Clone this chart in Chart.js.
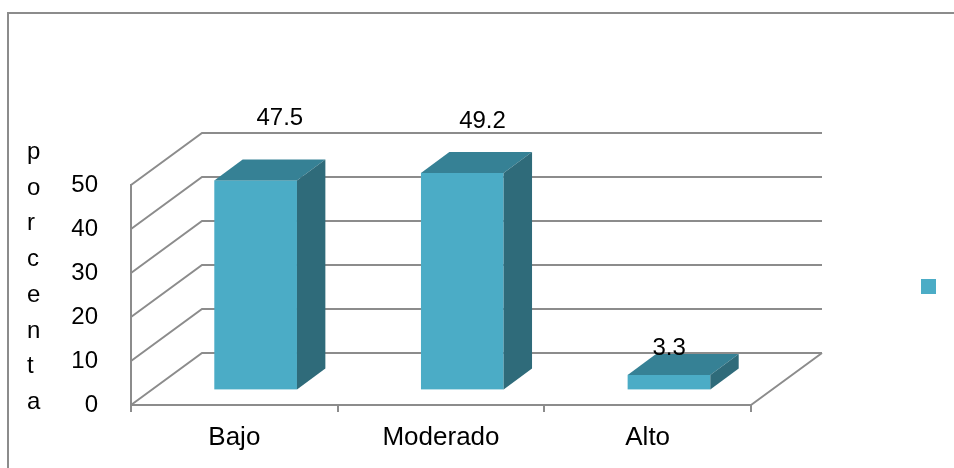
<!DOCTYPE html>
<html>
<head>
<meta charset="utf-8">
<script src="https://cdn.jsdelivr.net/npm/chart.js@4.4.1/dist/chart.umd.min.js"></script>
<style>
  html, body { margin: 0; padding: 0; background: #fff; }
</style>
</head>
<body>
<canvas id="chart" width="954" height="468"></canvas>
<script>
const categories = ["Bajo", "Moderado", "Alto"];
const porcentaje = [47.5, 49.2, 3.3];
const yTicks = [0, 10, 20, 30, 40, 50];
const axisTitle = "porcenta";

const font = "'Liberation Sans', Arial, sans-serif";
const gridColor = "#8c8c8c";
const faceFront = "#4bacc6";
const faceTop = "#368195";
const faceSide = "#2f6b7a";

// depth of the walls/floor, in px (right and up)
const depth = { dx: 71, dy: 52 };
// bars sit between 30% and 70% of the floor depth
const barDepth = { from: 0.3, to: 0.7 };

const threeD = {
  id: "threeD",
  beforeDatasetsDraw(chart) {
    const { ctx, chartArea: a } = chart;
    const y = chart.scales.y;
    ctx.save();
    ctx.strokeStyle = gridColor;
    ctx.lineWidth = 2;
    ctx.beginPath();
    // side wall diagonals + back wall gridlines
    yTicks.forEach(v => {
      const py = y.getPixelForValue(v);
      ctx.moveTo(a.left, py);
      ctx.lineTo(a.left + depth.dx, py - depth.dy);
      ctx.lineTo(a.right + depth.dx, py - depth.dy);
    });
    // right edge of the floor
    ctx.moveTo(a.right, a.bottom);
    ctx.lineTo(a.right + depth.dx, a.bottom - depth.dy);
    ctx.stroke();
    ctx.restore();
  },
  afterDatasetsDraw(chart, args, opts) {
    const { ctx } = chart;
    const meta = chart.getDatasetMeta(0);
    const ox = depth.dx * barDepth.from, oy = depth.dy * barDepth.from;
    const bx = depth.dx * (barDepth.to - barDepth.from);
    const by = depth.dy * (barDepth.to - barDepth.from);
    ctx.save();
    meta.data.forEach((bar, i) => {
      const { x, y, base, width } = bar.getProps(["x", "y", "base", "width"], true);
      const l = x - width / 2 + ox, r = x + width / 2 + ox;
      const t = y - oy, b = base - oy;
      ctx.fillStyle = faceFront;
      ctx.fillRect(l, t, r - l, b - t);
      ctx.fillStyle = faceTop;
      ctx.beginPath();
      ctx.moveTo(l, t); ctx.lineTo(l + bx, t - by); ctx.lineTo(r + bx, t - by); ctx.lineTo(r, t);
      ctx.closePath(); ctx.fill();
      ctx.fillStyle = faceSide;
      ctx.beginPath();
      ctx.moveTo(r, t); ctx.lineTo(r + bx, t - by); ctx.lineTo(r + bx, b - by); ctx.lineTo(r, b);
      ctx.closePath(); ctx.fill();

      // value label above the bar top
      const n = opts.labelNudge[i] || [0, 0];
      ctx.fillStyle = "#000";
      ctx.font = "24px " + font;
      ctx.textAlign = "center";
      ctx.textBaseline = "alphabetic";
      ctx.fillText(String(porcentaje[i]), (l + r) / 2 + bx / 2 + n[0], t - by - 20 + n[1]);
    });
    ctx.restore();
  },
  afterDraw(chart) {
    const { ctx, width, height } = chart;
    ctx.save();
    // outer frame: only the top and left edges fall inside the canvas
    ctx.strokeStyle = gridColor;
    ctx.lineWidth = 2;
    ctx.beginPath();
    ctx.moveTo(8, height);
    ctx.lineTo(8, 13);
    ctx.lineTo(width, 13);
    ctx.stroke();
    // stacked axis title
    ctx.fillStyle = "#000";
    ctx.font = "24px " + font;
    ctx.textAlign = "left";
    ctx.textBaseline = "alphabetic";
    axisTitle.split("").forEach((ch, i) => ctx.fillText(ch, 27, 159 + i * 35.7));
    // legend swatch (series has no name)
    ctx.fillStyle = faceFront;
    ctx.fillRect(921, 279, 15, 15);
    ctx.restore();
  }
};

new Chart(document.getElementById("chart"), {
  type: "bar",
  plugins: [threeD],
  data: {
    labels: categories,
    datasets: [{
      data: porcentaje,
      backgroundColor: "rgba(0,0,0,0)",
      barPercentage: 0.4,
      categoryPercentage: 1
    }]
  },
  options: {
    responsive: false,
    animation: false,
    layout: { padding: { left: 0, top: 185, right: 203, bottom: 0 } },
    plugins: {
      legend: { display: false },
      tooltip: { enabled: false },
      threeD: { labelNudge: [[10, -15], [6, -4], [-14, 21]] }
    },
    scales: {
      x: {
        afterFit: s => { s.height = 63; },
        grid: { display: true, drawOnChartArea: false, tickLength: 7, color: gridColor, lineWidth: 2, offset: true },
        border: { display: true, color: gridColor, width: 2 },
        ticks: { color: "#000", font: { family: font, size: 26 }, padding: 10 }
      },
      y: {
        min: 0,
        max: 50,
        afterFit: s => { s.width = 131; },
        afterBuildTicks: s => { s.ticks = yTicks.map(v => ({ value: v })); },
        grid: { display: false },
        border: { display: true, color: gridColor, width: 2 },
        ticks: { color: "#000", font: { family: font, size: 24 }, padding: 25 }
      }
    }
  }
});
</script>
</body>
</html>
